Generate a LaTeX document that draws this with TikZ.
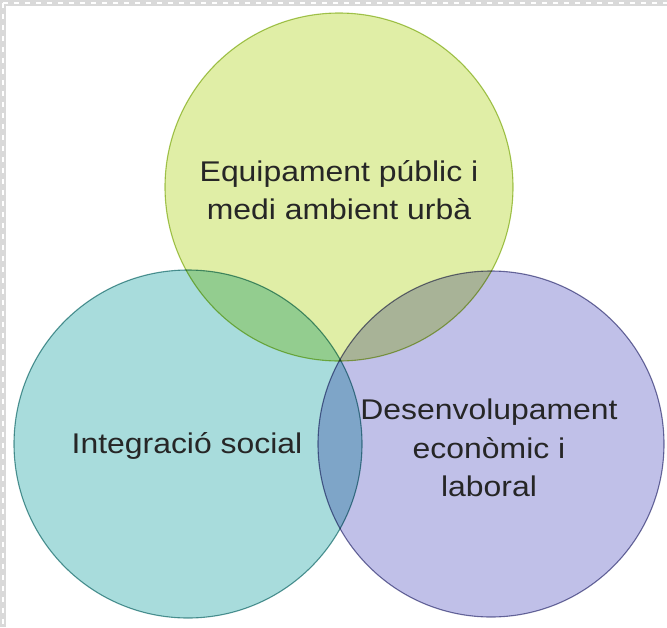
\documentclass[tikz,border=0pt]{standalone}
\usepackage{fontspec}
\setmainfont[FakeStretch=1.12]{Liberation Sans}
\begin{document}
\begin{tikzpicture}[x=1pt,y=-1pt,
  circ/.style={circle, minimum size=#1, inner sep=0pt, line width=1.1pt},
  lbl/.style={font=\fontsize{28.5}{38.5}\selectfont, text=black!85, align=center},
  bord/.style={draw=white, line width=2.5pt, dash pattern=on 5pt off 6pt}]
\useasboundingbox (0,0) rectangle (667,627);
\fill[white] (0,0) rectangle (667,627);
% dotted frame strips
\fill[black!15] (0,0) rectangle (667,6);
\fill[black!15] (0,0) rectangle (6,627);
\coordinate (t0) at (3,3);
\coordinate (t1) at (667,3);
\coordinate (l1) at (3,627);
\draw[bord] (t0) -- (t1);
\draw[bord] (t0) -- (l1);
% circles
\begin{scope}[blend group=multiply]
\node[circ=348pt, fill={rgb,255:red,224;green,238;blue,166}, draw={rgb,255:red,170;green,200;blue,90}] (top) at (339,187) {};
\node[circ=348pt, fill={rgb,255:red,168;green,220;blue,220}, draw={rgb,255:red,90;green,155;blue,155}] (left) at (188,444) {};
\node[circ=346pt, fill={rgb,255:red,192;green,192;blue,232}, draw={rgb,255:red,115;green,115;blue,160}] (right) at (491,444) {};
\end{scope}
\node[lbl] (ttop) at (339,190) {Equipament públic i\\medi ambient urbà};
\node[lbl] (tleft) at (187,446) {Integració social};
\node[lbl] (tright) at (489,448) {Desenvolupament\\econòmic i\\laboral};
\end{tikzpicture}
\end{document}
